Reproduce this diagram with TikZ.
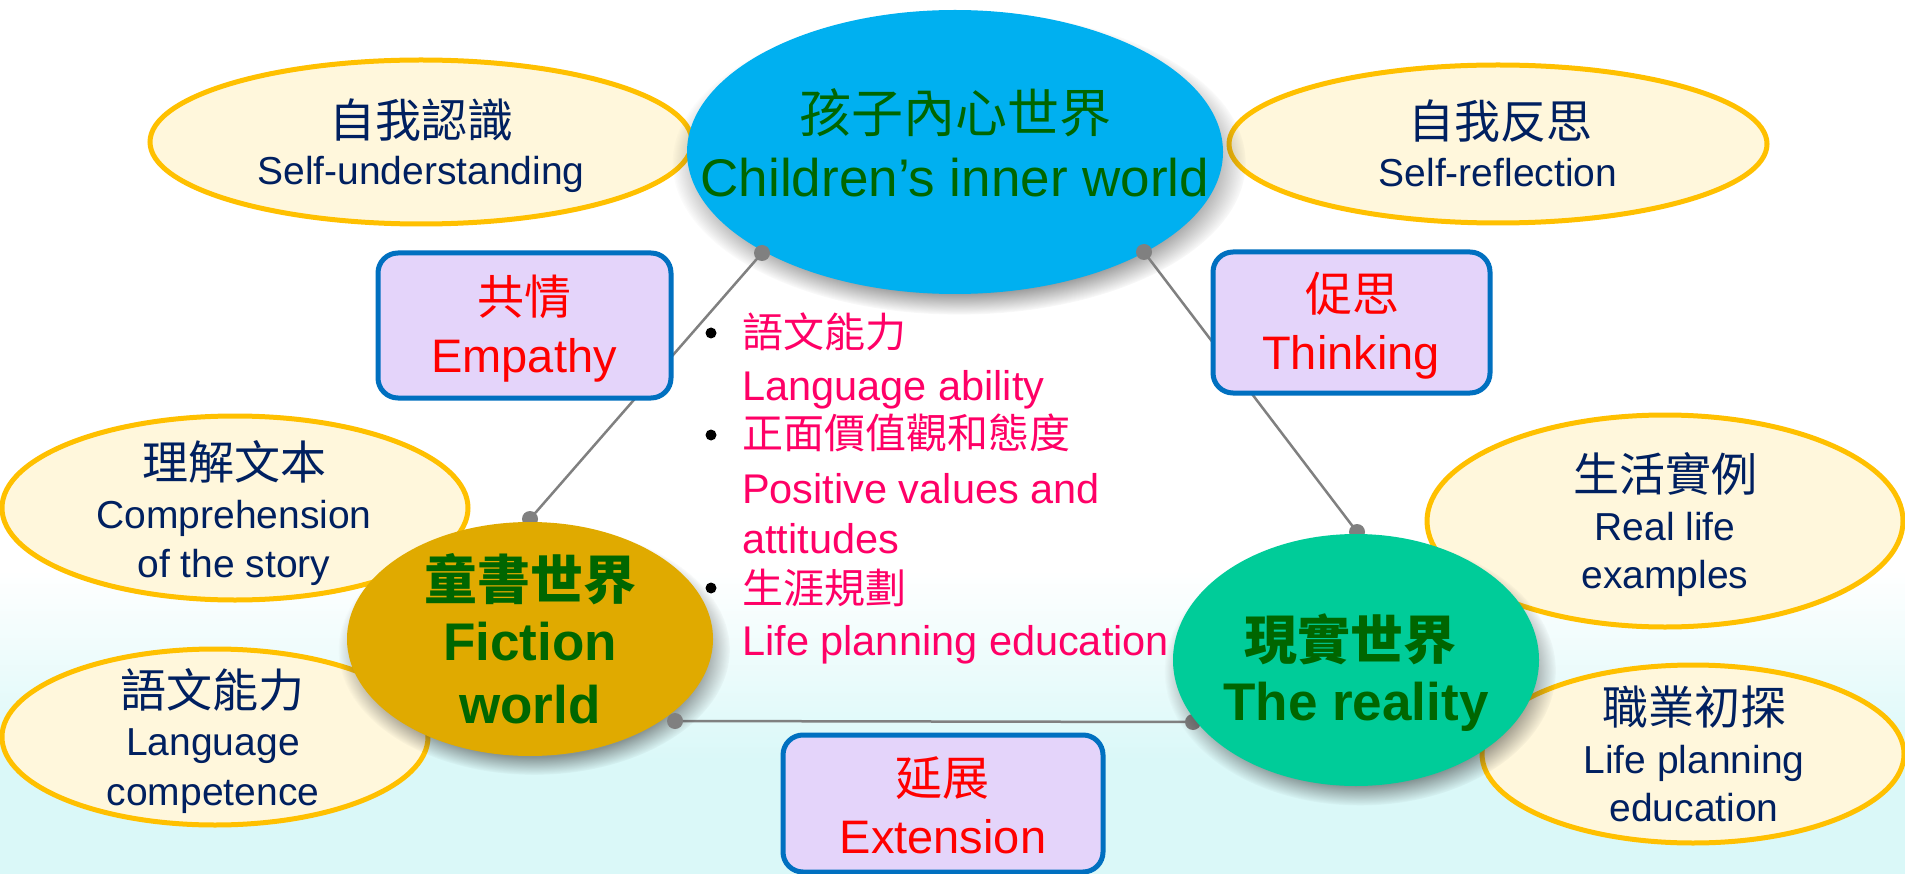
\documentclass[tikz,border=0pt]{standalone}
\usepackage{fontspec}
\setmainfont{Liberation Sans}
\newfontfamily\cjk{Noto Sans CJK TC}
\usetikzlibrary{shapes.geometric,shadows,fadings}
\newcommand{\setfs}[1]{\fontsize{#1}{#1}\selectfont}
\definecolor{ybord}{HTML}{FFC000}
\definecolor{yfill}{HTML}{FFF7DC}
\definecolor{bbord}{HTML}{0070C0}
\definecolor{bfill}{HTML}{E4D4FA}
\definecolor{navy}{HTML}{002060}
\definecolor{dkgreen}{HTML}{006600}
\definecolor{pinkt}{HTML}{FF0066}
\definecolor{skyb}{HTML}{00B0F0}
\definecolor{goldf}{HTML}{E0AA00}
\definecolor{mint}{HTML}{00CC99}
\definecolor{dotgray}{HTML}{808080}
\definecolor{bgcyan}{HTML}{DAF8F8}
\begin{document}
\begin{tikzpicture}[x=1pt,y=-1pt,
  yell/.style={ellipse, draw=ybord, line width=5pt, fill=yfill, inner sep=0pt},
  bigell/.style={ellipse, inner sep=0pt,
    circular drop shadow={shadow xshift=4pt, shadow yshift=-10pt, opacity=0.5, shadow scale=1.07, fill=black!80}},
  boxx/.style={rectangle, rounded corners=20pt, draw=bbord, line width=5pt, fill=bfill, inner sep=0pt},
  dotn/.style={circle, fill=dotgray, inner sep=0pt, minimum size=16pt},
  bul/.style={circle, fill=black, inner sep=0pt, minimum size=11pt},
  conn/.style={draw=dotgray, line width=2.5pt},
  zhnavy/.style={text=navy, font=\cjk\setfs{46}, inner sep=0pt},
  ennavy/.style={text=navy, font=\setfs{39}, anchor=base, inner sep=0pt},
  zhred/.style={text=red, font=\cjk\setfs{47}, inner sep=0pt},
  enred/.style={text=red, font=\setfs{47}, anchor=base, inner sep=0pt},
  zhpink/.style={text=pinkt, font=\cjk\setfs{41}, anchor=west, inner sep=0pt},
  enpink/.style={text=pinkt, font=\setfs{41.5}, anchor=base west, inner sep=0pt},
  zhbig/.style={text=dkgreen, font=\cjk\setfs{52}, inner sep=0pt},
  enbig/.style={text=dkgreen, font=\setfs{53}, anchor=base, inner sep=0pt},
  zhbold/.style={text=dkgreen, font=\cjk\bfseries\setfs{53}, inner sep=0pt},
  enbold/.style={text=dkgreen, font=\bfseries\setfs{53}, anchor=base, inner sep=0pt}
]
\useasboundingbox (0,0) rectangle (1905,874);
% background
\fill[white] (0,0) rectangle (1905,571);
\shade[top color=white, bottom color=bgcyan] (0,570) rectangle (1905,760);
\fill[bgcyan] (0,759) rectangle (1905,874);

% dot positions
\coordinate (ctl) at (762,253);
\coordinate (ctr) at (1144,252);
\coordinate (cft) at (530,519);
\coordinate (cfr) at (675,721);
\coordinate (crt) at (1357,532);
\coordinate (crl) at (1193,722);

% yellow ellipses
\node[yell, minimum width=542pt, minimum height=164pt] (selfu) at (421,142) {};
\node[zhnavy] (selfu-zh) at (421,120) {自我認識};
\node[ennavy] (selfu-en) at (421,185) {Self-understanding};

\node[yell, minimum width=538pt, minimum height=158pt] (selfr) at (1498,144) {};
\node[zhnavy] (selfr-zh) at (1500,121) {自我反思};
\node[ennavy] (selfr-en) at (1498,187) {Self-reflection};

\node[yell, minimum width=466pt, minimum height=184pt] (compr) at (235,508) {};
\node[zhnavy] (compr-zh) at (234,462) {理解文本};
\node[ennavy] (compr-en1) at (234,528) {Comprehension};
\node[ennavy] (compr-en2) at (234,577) {of the story};

\node[yell, minimum width=426pt, minimum height=176pt] (langc) at (215,737) {};
\node[zhnavy] (langc-zh) at (212,690) {語文能力};
\node[ennavy] (langc-en1) at (213,755) {Language};
\node[ennavy] (langc-en2) at (213,805) {competence};

\node[yell, minimum width=476pt, minimum height=212pt] (reall) at (1665,521) {};
\node[zhnavy] (reall-zh) at (1665,474) {生活實例};
\node[ennavy] (reall-en1) at (1665,540) {Real life};
\node[ennavy] (reall-en2) at (1665,588) {examples};

\node[yell, minimum width=422pt, minimum height=178pt] (lifep) at (1693,754) {};
\node[zhnavy] (lifep-zh) at (1694,707) {職業初探};
\node[ennavy] (lifep-en1) at (1694,773) {Life planning};
\node[ennavy] (lifep-en2) at (1694,821) {education};

% middle bullet list
\node[bul] (b1) at (711,333) {};
\node[bul] (b2) at (711,435) {};
\node[bul] (b3) at (711,588) {};
\node[zhpink] (m1) at (742,332) {語文能力};
\node[enpink] (m2) at (742,400) {Language ability};
\node[zhpink] (m3) at (742,433) {正面價值觀和態度};
\node[enpink] (m4) at (742,503) {Positive values and};
\node[enpink] (m5) at (742,553) {attitudes};
\node[zhpink] (m6) at (742,588) {生涯規劃};
\node[enpink] (m7) at (742,655) {Life planning education};

% top ellipse
\node[bigell, fill=skyb, minimum width=536pt, minimum height=284pt] (inner) at (955,152) {};
\node[zhbig] (inner-zh) at (955,113) {孩子內心世界};
\node[enbig] (inner-en) at (955,197) {Children’s inner world};

% connectors
\draw[conn] (ctl) -- (cft);
\draw[conn] (ctr) -- (crt);
\draw[conn] (cfr) -- (crl);
\node[dotn] (dtl) at (ctl) {};
\node[dotn] (dtr) at (ctr) {};
\node[dotn] (dft) at (cft) {};
\node[dotn] (drt) at (crt) {};
\node[dotn] (drl) at (crl) {};

% fiction and reality
\node[bigell, fill=goldf, minimum width=366pt, minimum height=234pt] (fict) at (530,639) {};
\node[zhbold] (fict-zh) at (530,579) {童書世界};
\node[enbold] (fict-en1) at (530,660) {Fiction};
\node[enbold] (fict-en2) at (530,723) {world};
\node[dotn] (dfr) at (cfr) {};

\node[bigell, fill=mint, minimum width=366pt, minimum height=252pt] (real) at (1356,660) {};
\node[zhbold] (real-zh) at (1350,639) {現實世界};
\node[enbold] (real-en) at (1356,720) {The reality};

% boxes
\node[boxx, minimum width=293pt, minimum height=145pt] (emp) at (524.5,325.5) {};
\node[zhred] (emp-zh) at (524,297) {共情};
\node[enred] (emp-en) at (524,372) {Empathy};

\node[boxx, minimum width=277pt, minimum height=141pt] (thk) at (1351.5,322.5) {};
\node[zhred] (thk-zh) at (1352,294) {促思};
\node[enred] (thk-en) at (1351,369) {Thinking};

\node[boxx, minimum width=320pt, minimum height=137pt] (ext) at (943,803.5) {};
\node[zhred] (ext-zh) at (942,778) {延展};
\node[enred] (ext-en) at (943,853) {Extension};
\end{tikzpicture}
\end{document}
